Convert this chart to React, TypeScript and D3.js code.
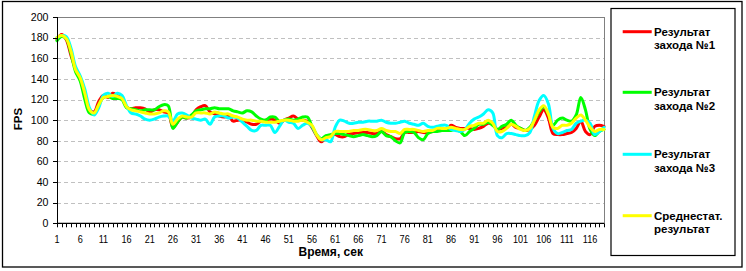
import React from 'react';
import * as d3 from 'd3';

const run1 = [178,183,178,163,150,140,125,110,108,118,124,122,126,124,122,113,111,112,112,111,108,110,110,108,107,93,98,103,102,103,110,113,114,108,106,104,103,104,99,100,100,98,96,96,99,100,101,100,97,100,102,104,101,100,99,93,85,79,83,85,86,84,84,87,87,88,88,88,87,87,89,86,84,82,82,88,88,88,89,88,88,89,90,90,91,95,93,92,92,92,91,92,94,97,96,91,92,93,96,93,92,90,91,95,103,110,102,87,86,86,87,88,92,99,89,86,94,95,94];
const run2 = [177,181,179,165,147,138,120,107,106,115,122,123,121,121,120,112,111,110,109,110,110,110,113,115,114,92,98,103,102,105,109,110,111,111,112,111,111,111,109,108,107,109,108,104,101,100,103,103,99,100,101,100,101,103,103,94,86,82,85,86,87,87,86,85,84,85,86,85,84,85,89,85,84,80,78,88,89,88,83,81,87,89,89,90,90,90,91,89,85,89,92,96,96,98,95,91,94,96,100,95,92,90,93,100,108,113,106,95,100,102,100,99,105,122,110,91,85,89,91];
const run3 = [180,182,181,170,152,143,130,112,105,112,124,126,123,126,124,114,107,106,104,101,100,101,103,104,104,99,106,107,105,102,101,100,101,96,103,104,104,102,103,102,98,94,90,90,95,95,95,88,94,100,98,97,92,95,97,94,86,81,81,79,93,100,99,97,97,98,98,99,99,99,100,98,97,97,98,99,97,96,95,97,94,93,94,95,95,91,90,89,91,97,101,103,106,110,107,85,83,87,87,86,85,85,88,104,119,124,116,92,87,88,90,91,97,99,100,97,86,89,93];
const average = [180,182,179,167,149,141,126,110,107,115,122,123,124,123,121,113,110,109,108,107,106,106,107,109,108,96,101,104,103,103,107,107,107,106,108,107,106,106,104,103,101,100,100,99,99,98,98,98,99,100,100,99,99,100,98,95,86,81,83,84,89,89,89,89,90,90,91,91,90,90,92,90,89,89,87,91,91,91,90,89,90,90,92,92,92,93,92,91,91,94,95,97,97,100,97,89,89,92,96,94,91,90,92,100,110,114,106,93,92,95,95,97,102,105,100,93,89,91,91];

const seriesNames = [
  ['Результат', 'захода №1'],
  ['Результат', 'захода №2'],
  ['Результат', 'захода №3'],
  ['Среднестат.', 'результат'],
];
const seriesColors = ['#FF0000', '#00FF00', '#00FFFF', '#FFFF00'];
const yTicks = [0, 20, 40, 60, 80, 100, 120, 140, 160, 180, 200];
const xTitle = 'Время, сек';
const yTitle = 'FPS';

export default function App() {
  const W = 746, H = 271;
  const left = 57, right = 604, top = 17, bottom = 223.3;
  const series = [run1, run2, run3, average];
  const n = run1.length;
  const categories = Array.from({ length: n }, (_, i) => i + 1);
  const x = d3.scaleLinear().domain([1, n]).range([left, right]);
  const y = d3.scaleLinear().domain([0, 200]).range([bottom, top]);
  const line = d3.line<number>()
    .x((_, i) => x(i + 1))
    .y(d => y(d))
    .curve(d3.curveCatmullRom.alpha(0.5));
  const font = '"Liberation Sans", Arial, sans-serif';
  const legendY = [31.7, 92.3, 154.3, 215.7];

  return (
    <svg width={W} height={H} style={{ position: 'absolute', left: 0, top: 0, background: '#fff' }} fontFamily={font}>
      <rect x={2.5} y={1.5} width={739.5} height={265.5} fill="#fff" stroke="#000" strokeWidth={1.3} />
      {yTicks.filter(t => t > 0 && t < 200).map(t => (
        <line key={'g' + t} x1={left} x2={right} y1={Math.round(y(t)) + 0.5} y2={Math.round(y(t)) + 0.5}
          stroke="#C0C0C0" strokeDasharray="4,3" />
      ))}
      <line x1={left} x2={right} y1={top + 0.5} y2={top + 0.5} stroke="#808080" />
      <line x1={right + 0.5} x2={right + 0.5} y1={top} y2={bottom} stroke="#808080" />
      {series.map((s, k) => (
        <path key={'s' + k} d={line(s) || ''} fill="none" stroke={seriesColors[k]} strokeWidth={3}
          strokeLinejoin="round" strokeLinecap="round" />
      ))}
      <line x1={left + 0.5} x2={left + 0.5} y1={top} y2={bottom} stroke="#000" />
      <line x1={left} x2={right} y1={bottom} y2={bottom} stroke="#000" strokeWidth={1.2} />
      {yTicks.map(t => (
        <g key={'yt' + t}>
          <line x1={left - 4} x2={left} y1={Math.round(y(t)) + 0.5} y2={Math.round(y(t)) + 0.5} stroke="#000" />
          <text x={48.5} y={y(t)} dy="0.36em" textAnchor="end" fontSize={10.6} fill="#000">{t}</text>
        </g>
      ))}
      {categories.map(c => (
        <line key={'xt' + c} x1={Math.round(x(c)) + 0.5} x2={Math.round(x(c)) + 0.5} y1={bottom} y2={bottom + 4} stroke="#000" />
      ))}
      {categories.filter(c => (c - 1) % 5 === 0).map(c => (
        <text key={'xl' + c} transform={`translate(${x(c)},243.3) scale(0.86,1)`} textAnchor="middle" fontSize={10.6} fill="#000">{c}</text>
      ))}
      <text x={330.7} y={255.5} textAnchor="middle" fontSize={12} fontWeight="bold" fill="#000">{xTitle}</text>
      <text transform="translate(21.5,119) rotate(-90)" textAnchor="middle" fontSize={11.5} fontWeight="bold" fill="#000">{yTitle}</text>
      <rect x={611} y={8.5} width={124} height={247} fill="#fff" stroke="#000" strokeWidth={1.2} />
      {seriesNames.map((nm, k) => (
        <g key={'lg' + k}>
          <line x1={622.7} x2={651.7} y1={legendY[k]} y2={legendY[k]} stroke={seriesColors[k]} strokeWidth={3} />
          <text x={654} y={legendY[k] + 4} fontSize={11.5} fontWeight="bold" fill="#000">{nm[0]}</text>
          <text x={654} y={legendY[k] + 17.7} fontSize={11.5} fontWeight="bold" fill="#000">{nm[1]}</text>
        </g>
      ))}
    </svg>
  );
}
